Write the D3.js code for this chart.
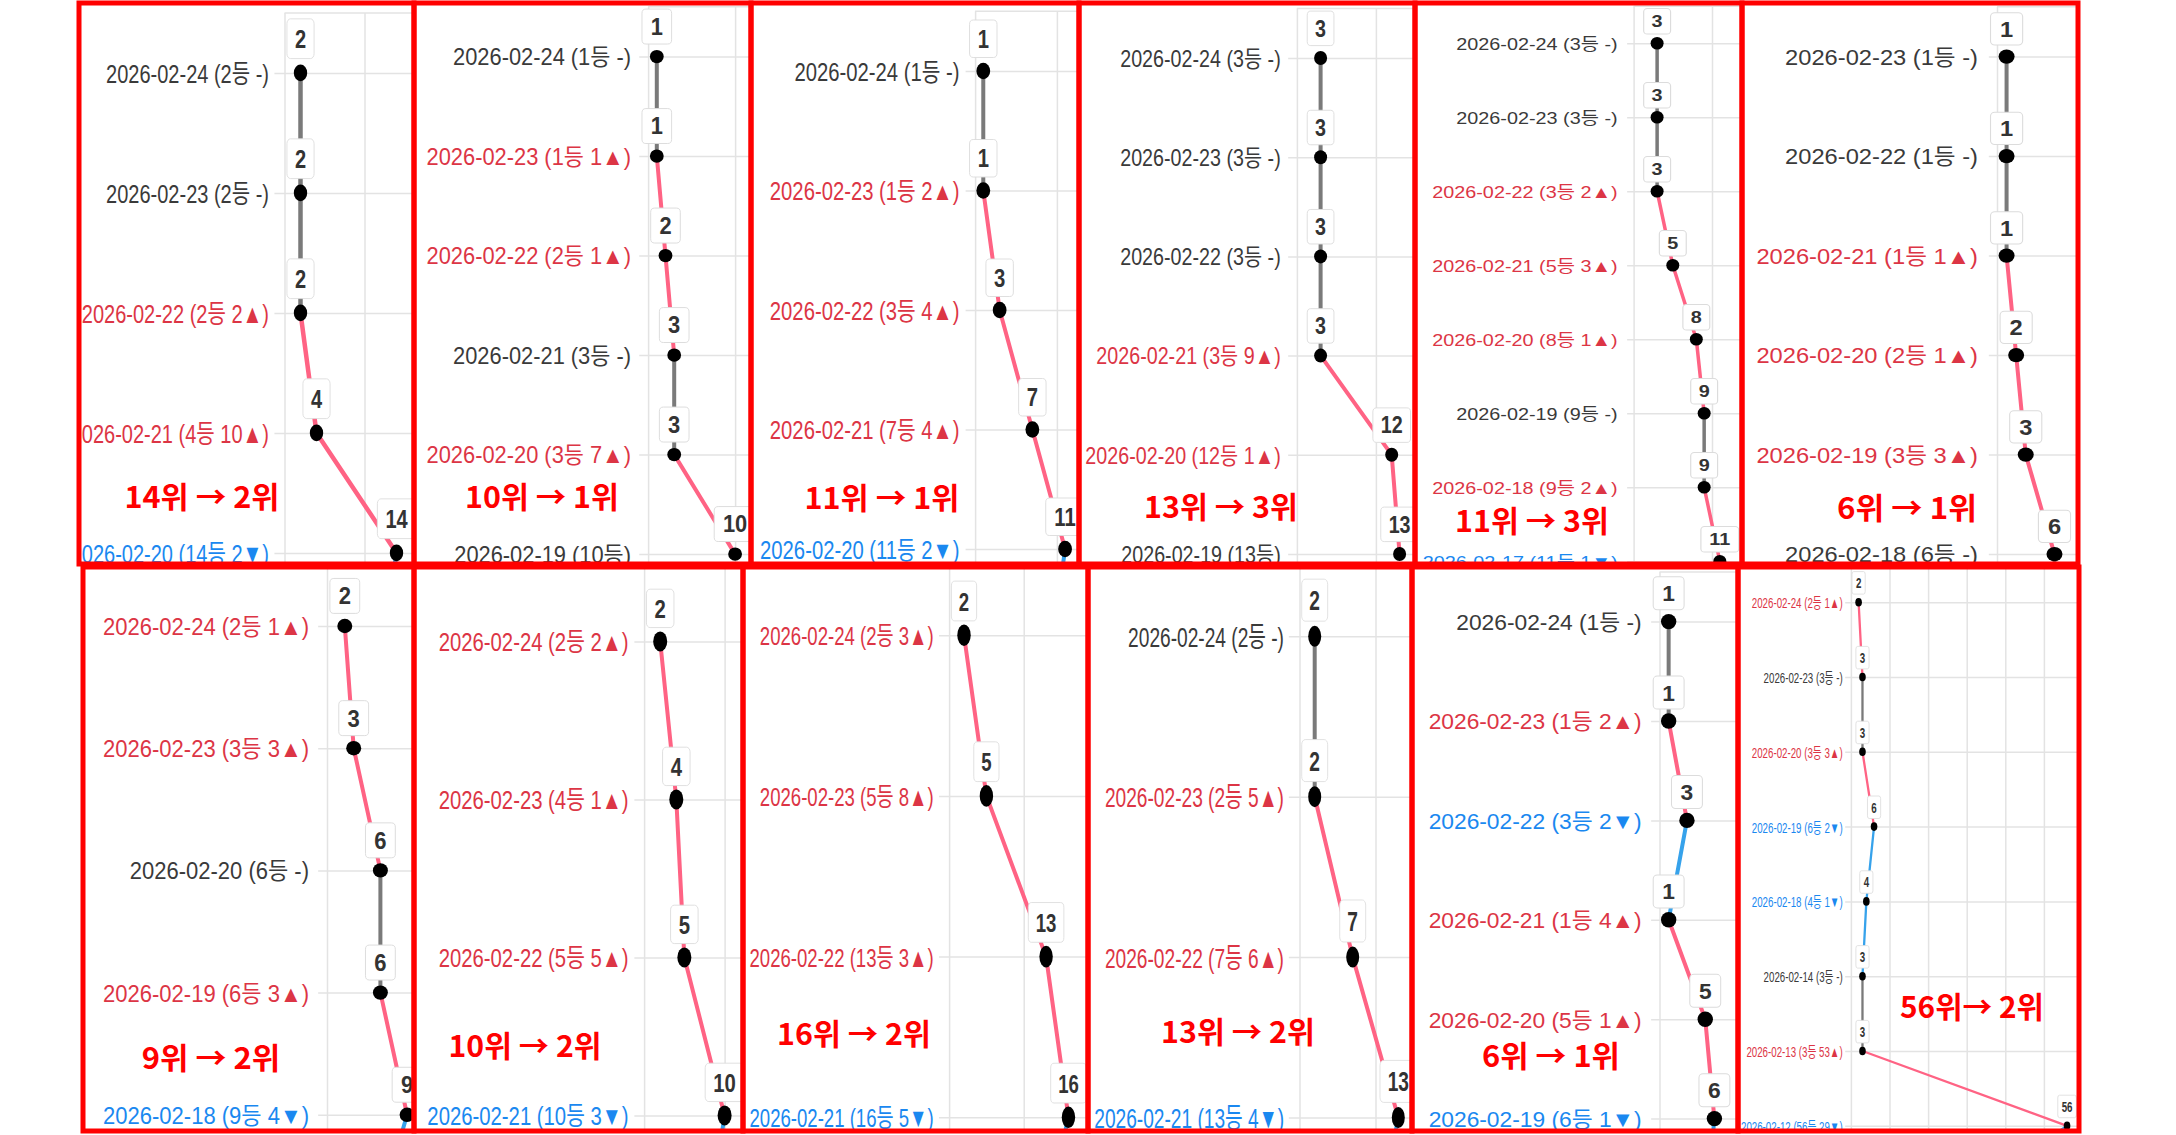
<!DOCTYPE html>
<html>
<head>
<meta charset="utf-8">
<script src="https://cdn.jsdelivr.net/npm/d3@7"></script>
<style>
  body { margin: 0; background: #fff; }
  svg { display: block; }
</style>
</head>
<body>
<script>
// ---- data ----
// moves: + = 상승(▲), - = 하락(▼), 0 = 변동없음(-), null = 표기 없음
const p1Dates = ["2026-02-24", "2026-02-23", "2026-02-22", "2026-02-21", "2026-02-20"];
const p1Ranks = [2, 2, 2, 4, 14];
const p1Moves = [0, 0, 2, 10, -2];

const p2Dates = ["2026-02-24", "2026-02-23", "2026-02-22", "2026-02-21", "2026-02-20", "2026-02-19"];
const p2Ranks = [1, 1, 2, 3, 3, 10];
const p2Moves = [0, 1, 1, 0, 7, null];

const p3Dates = ["2026-02-24", "2026-02-23", "2026-02-22", "2026-02-21", "2026-02-20"];
const p3Ranks = [1, 1, 3, 7, 11];
const p3Moves = [0, 2, 4, 4, -2];

const p4Dates = ["2026-02-24", "2026-02-23", "2026-02-22", "2026-02-21", "2026-02-20", "2026-02-19"];
const p4Ranks = [3, 3, 3, 3, 12, 13];
const p4Moves = [0, 0, 0, 9, 1, null];

const p5Dates = ["2026-02-24", "2026-02-23", "2026-02-22", "2026-02-21", "2026-02-20", "2026-02-19", "2026-02-18", "2026-02-17"];
const p5Ranks = [3, 3, 3, 5, 8, 9, 9, 11];
const p5Moves = [0, 0, 2, 3, 1, 0, 2, -1];

const p6Dates = ["2026-02-23", "2026-02-22", "2026-02-21", "2026-02-20", "2026-02-19", "2026-02-18"];
const p6Ranks = [1, 1, 1, 2, 3, 6];
const p6Moves = [0, 0, 1, 1, 3, 0];

const p7Dates = ["2026-02-24", "2026-02-23", "2026-02-20", "2026-02-19", "2026-02-18"];
const p7Ranks = [2, 3, 6, 6, 9];
const p7Moves = [1, 3, 0, 3, -4];

const p8Dates = ["2026-02-24", "2026-02-23", "2026-02-22", "2026-02-21"];
const p8Ranks = [2, 4, 5, 10];
const p8Moves = [2, 1, 5, -3];

const p9Dates = ["2026-02-24", "2026-02-23", "2026-02-22", "2026-02-21"];
const p9Ranks = [2, 5, 13, 16];
const p9Moves = [3, 8, 3, -5];

const p10Dates = ["2026-02-24", "2026-02-23", "2026-02-22", "2026-02-21"];
const p10Ranks = [2, 2, 7, 13];
const p10Moves = [0, 5, 6, -4];

const p11Dates = ["2026-02-24", "2026-02-23", "2026-02-22", "2026-02-21", "2026-02-20", "2026-02-19"];
const p11Ranks = [1, 1, 3, 1, 5, 6];
const p11Moves = [0, 2, -2, 4, 1, -1];

const p12Dates = ["2026-02-24", "2026-02-23", "2026-02-20", "2026-02-19", "2026-02-18", "2026-02-14", "2026-02-13", "2026-02-12"];
const p12Ranks = [2, 3, 3, 6, 4, 3, 3, 56];
const p12Moves = [1, 0, 3, -2, -1, 0, 53, -29];

const noteTexts = ["14위 → 2위", "10위 → 1위", "11위 → 1위", "13위 → 3위", "11위 → 3위", "6위 → 1위",
                   "9위 → 2위", "10위 → 2위", "16위 → 2위", "13위 → 2위", "6위 → 1위", "56위→ 2위"];

const panels = [
  [p1Dates, p1Ranks, p1Moves], [p2Dates, p2Ranks, p2Moves], [p3Dates, p3Ranks, p3Moves],
  [p4Dates, p4Ranks, p4Moves], [p5Dates, p5Ranks, p5Moves], [p6Dates, p6Ranks, p6Moves],
  [p7Dates, p7Ranks, p7Moves], [p8Dates, p8Ranks, p8Moves], [p9Dates, p9Ranks, p9Moves],
  [p10Dates, p10Ranks, p10Moves], [p11Dates, p11Ranks, p11Moves], [p12Dates, p12Ranks, p12Moves]
].map(d => ({ dates: d[0], ranks: d[1], moves: d[2] }));

// ---- layout (each panel is a cropped screenshot, so every one has its own geometry) ----
// box: red frame, x0: x of rank 0, kx: px per rank, y0/dy: first row and row step,
// fs: font size, labR: right end of labels, labW: width of first label,
// rx/ry: dot radii, lw: line width, note: [cx, cy, width]
const layout = [
  { box: [79, 3, 414, 564],    x0: 284.5, kx: 8.0,  y0: 72.9,  dy: 120,   fs: 26.5, labR: 269,    labW: 163,   rx: 6.7, ry: 8.3,  lw: 4.5, note: [202, 497.5, 155] },
  { box: [414, 3, 751, 564],   x0: 648.1, kx: 8.7,  y0: 56.6,  dy: 99.5,  fs: 23.3, labR: 631,    labW: 178,   rx: 6.9, ry: 6.7,  lw: 4,   note: [542, 497, 154] },
  { box: [751, 3, 1079, 564],  x0: 975.1, kx: 8.18, y0: 71,    dy: 119.5, fs: 25,   labR: 959.4,  labW: 165,   rx: 6.9, ry: 8.3,  lw: 4,   note: [882, 498, 155] },
  { box: [1079, 3, 1415, 564], x0: 1296.9, kx: 7.9, y0: 58,    dy: 99.2,  fs: 23,   labR: 1280.7, labW: 160.6, rx: 6.5, ry: 7,    lw: 4,   note: [1221, 507, 154] },
  { box: [1415, 3, 1742, 564], x0: 1633.6, kx: 7.84, y0: 43.3, dy: 74,    fs: 17,   labR: 1617.6, labW: 161.5, rx: 6.5, ry: 6.3,  lw: 3.5, note: [1532, 521, 154] },
  { box: [1742, 3, 2078, 564], x0: 1997,  kx: 9.58, y0: 56.6,  dy: 99.5,  fs: 21.5, labR: 1978,   labW: 193,   rx: 8,   ry: 7.2,  lw: 4,   note: [1907, 508, 140] },
  { box: [83, 567, 414, 1131], x0: 327,   kx: 8.9,  y0: 626,   dy: 122.2, fs: 23.3, labR: 309,    labW: 206,   rx: 7.5, ry: 7.2,  lw: 4,   note: [211, 1058, 138.5] },
  { box: [414, 567, 743, 1131], x0: 644.1, kx: 8.05, y0: 641.4, dy: 158,  fs: 25.6, labR: 628.6,  labW: 190,   rx: 7,   ry: 10,   lw: 4,   note: [525, 1046, 153] },
  { box: [743, 567, 1088, 1131], x0: 949.1, kx: 7.46, y0: 635.2, dy: 160.7, fs: 26.5, labR: 933.7, labW: 174,   rx: 6.7, ry: 10.8, lw: 4,   note: [854, 1034, 154] },
  { box: [1088, 567, 1412, 1131], x0: 1299.5, kx: 7.6, y0: 636.3, dy: 160.4, fs: 28, labR: 1284,   labW: 156,   rx: 6.5, ry: 10.5, lw: 4,   note: [1238, 1032, 154] },
  { box: [1412, 567, 1738, 1131], x0: 1659.5, kx: 9.15, y0: 621.6, dy: 99.4, fs: 22, labR: 1641.7, labW: 185.6, rx: 7.7, ry: 7.7,  lw: 4,   note: [1551, 1056, 138] },
  { box: [1738, 567, 2079, 1131], x0: 1850.9, kx: 3.86, y0: 602.2, dy: 74.8, fs: 15, labR: 1842.7, labW: 91,    rx: 3.3, ry: 4.3,  lw: 2.3, note: [1972, 1007, 144] }
];

const W = 2176, H = 1135;
const FONT = "'Liberation Sans', Arial, 'Noto Sans CJK KR', sans-serif";
const GRID = "#e3e3e3";

function moveText(m) {
  if (m === null) return "";
  if (m === 0) return " -";
  return m > 0 ? " " + m + "▲" : " " + (-m) + "▼";
}
function textColor(m) {
  if (m === null || m === 0) return "#3a3a3a";
  return m > 0 ? "#dc3545" : "#1a88f0";
}
function lineColor(m) {
  if (m === 0) return "#7a7a7a";
  return m > 0 ? "#ff6384" : "#36a2eb";
}

const svg = d3.select("body").append("svg")
  .attr("width", W).attr("height", H)
  .attr("viewBox", `0 0 ${W} ${H}`);
svg.append("rect").attr("width", W).attr("height", H).attr("fill", "#fff");

function drawPanel(d, c, idx) {
  const [bx0, by0, bx1, by1] = c.box;
  const n = d.dates.length;
  svg.append("clipPath").attr("id", "clip" + idx)
    .append("rect").attr("x", bx0).attr("y", by0).attr("width", bx1 - bx0).attr("height", by1 - by0);
  const g = svg.append("g").attr("clip-path", `url(#clip${idx})`);

  const x = d3.scaleLinear().domain([0, 10]).range([c.x0, c.x0 + 10 * c.kx]);
  const y = d3.scaleLinear().domain([0, n - 1]).range([c.y0, c.y0 + (n - 1) * c.dy]);
  const top = y(-0.5);
  const tick = 0.38 * c.fs;

  // vertical grid (x axis, labels hidden)
  const maxRank = x.invert(bx1);
  g.append("g")
    .attr("transform", `translate(0,${by1 + 20})`)
    .call(d3.axisBottom(x).tickValues(d3.range(0, maxRank + 10, 10))
      .tickSize(-(by1 + 20 - top)).tickFormat(""))
    .call(a => a.select(".domain").remove())
    .selectAll("line").attr("stroke", GRID).attr("stroke-width", 1.5);

  g.append("line")
    .attr("x1", c.x0).attr("x2", bx1).attr("y1", top).attr("y2", top)
    .attr("stroke", GRID).attr("stroke-width", 1.5);

  // y axis: dates with rank / move
  const labels = d.dates.map((dt, i) => `${dt} (${d.ranks[i]}등${moveText(d.moves[i])})`);
  const ya = g.append("g")
    .attr("transform", `translate(${c.x0},0)`)
    .call(d3.axisLeft(y).tickValues(d3.range(n)).tickSize(tick).tickFormat(i => labels[i]))
    .attr("font-size", null).attr("font-family", null);
  ya.select(".domain").remove();
  ya.selectAll(".tick line")
    .attr("x1", -tick).attr("x2", bx1 - c.x0)
    .attr("stroke", GRID).attr("stroke-width", 1.5);
  const texts = ya.selectAll(".tick text")
    .attr("font-family", FONT).attr("font-size", c.fs)
    .attr("fill", (i) => textColor(d.moves[i]))
    .attr("x", 0).attr("dy", "0.36em");
  const natural = texts.node().getComputedTextLength();
  const sx = c.labW / natural;
  texts.attr("transform", `translate(${c.labR - c.x0},0) scale(${sx},1)`);

  // line segments, coloured by the move of the upper (newer) point
  const segs = [];
  for (let i = 0; i < n; i++) {
    const m = d.moves[i];
    if (i < n - 1) segs.push({ a: [d.ranks[i], i], b: [d.ranks[i + 1], i + 1], m: m });
    else if (m !== null) segs.push({ a: [d.ranks[i], i], b: [d.ranks[i] + m, i + 1], m: m });
  }
  g.append("g").selectAll("line").data(segs).enter().append("line")
    .attr("x1", s => x(s.a[0])).attr("y1", s => y(s.a[1]))
    .attr("x2", s => x(s.b[0])).attr("y2", s => y(s.b[1]))
    .attr("stroke", s => lineColor(s.m))
    .attr("stroke-width", c.lw).attr("stroke-linecap", "round");

  g.append("g").selectAll("ellipse").data(d.ranks).enter().append("ellipse")
    .attr("cx", r => x(r)).attr("cy", (r, i) => y(i))
    .attr("rx", c.rx).attr("ry", c.ry).attr("fill", "#000");

  // value badges above each point
  const bh = 1.5 * c.fs;
  const badges = g.append("g").selectAll("g").data(d.ranks).enter().append("g")
    .attr("transform", (r, i) => `translate(${x(r)},${y(i) - 0.54 * c.fs - bh / 2}) scale(${sx},1)`);
  badges.append("rect")
    .attr("x", r => -(String(r).length * 0.556 + 0.8) * c.fs / 2)
    .attr("width", r => (String(r).length * 0.556 + 0.8) * c.fs)
    .attr("y", -bh / 2).attr("height", bh)
    .attr("rx", 0.18 * c.fs)
    .attr("fill", "#fff").attr("stroke", "#dcdcdc").attr("stroke-width", 1);
  badges.append("text")
    .attr("text-anchor", "middle").attr("dy", "0.36em")
    .attr("font-family", FONT).attr("font-size", c.fs).attr("font-weight", "bold")
    .attr("fill", "#333")
    .text(r => r);

  // red annotation
  svg.append("text")
    .attr("x", c.note[0]).attr("y", c.note[1]).attr("dy", "0.36em")
    .attr("text-anchor", "middle")
    .attr("font-family", "'Noto Sans CJK KR', sans-serif").attr("font-weight", 700)
    .attr("font-size", 30).attr("fill", "#ff0000")
    .attr("textLength", c.note[2]).attr("lengthAdjust", "spacingAndGlyphs")
    .text(noteTexts[idx]);
}

panels.forEach((d, i) => drawPanel(d, layout[i], i));

// red frames on top
svg.append("g").selectAll("rect").data(layout).enter().append("rect")
  .attr("x", c => c.box[0]).attr("y", c => c.box[1])
  .attr("width", c => c.box[2] - c.box[0]).attr("height", c => c.box[3] - c.box[1])
  .attr("fill", "none").attr("stroke", "#ff0000").attr("stroke-width", 5);
</script>
</body>
</html>
